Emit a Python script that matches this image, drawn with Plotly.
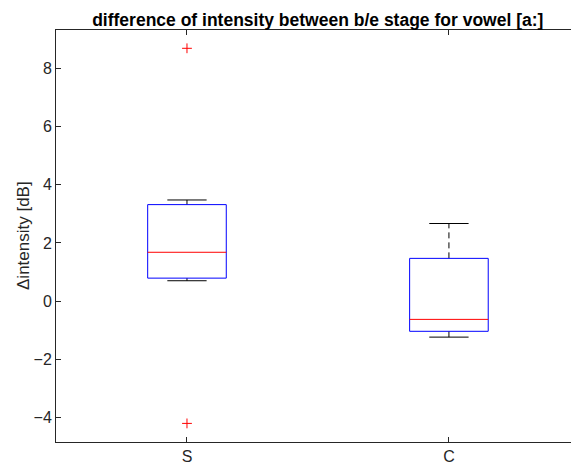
import plotly.graph_objects as go

groups = ["S", "C"]
positions = [1, 2]
q1 = [0.79, -1.04]
median = [1.68, -0.63]
q3 = [3.32, 1.47]
lower_whisker = [0.70, -1.24]
upper_whisker = [3.48, 2.67]
outliers = [[8.70, -4.21], []]

half_box = 0.15
half_cap = 0.075

fig = go.Figure()
for p, a, m, b, lw, uw, out in zip(positions, q1, median, q3, lower_whisker, upper_whisker, outliers):
    # whiskers (dashed black)
    fig.add_trace(go.Scatter(x=[p, p, None, p, p], y=[b, uw, None, a, lw], mode="lines",
                             line=dict(color="black", width=1, dash="6px,4px"), hoverinfo="skip"))
    # caps
    fig.add_trace(go.Scatter(x=[p - half_cap, p + half_cap, None, p - half_cap, p + half_cap],
                             y=[uw, uw, None, lw, lw], mode="lines",
                             line=dict(color="black", width=1), hoverinfo="skip"))
    # box
    fig.add_trace(go.Scatter(x=[p - half_box, p + half_box, p + half_box, p - half_box, p - half_box],
                             y=[a, a, b, b, a], mode="lines",
                             line=dict(color="#0000ff", width=1), hoverinfo="skip"))
    # median
    fig.add_trace(go.Scatter(x=[p - half_box, p + half_box], y=[m, m], mode="lines",
                             line=dict(color="#ff0000", width=1), hoverinfo="skip"))
    if out:
        fig.add_trace(go.Scatter(x=[p] * len(out), y=out, mode="markers",
                                 marker=dict(symbol="cross-thin", size=7,
                                             line=dict(color="#ff0000", width=1)),
                                 hoverinfo="skip"))

axis_color = "#262626"
fig.update_layout(
    width=571, height=469,
    margin=dict(l=56, r=0, t=30, b=27),
    paper_bgcolor="white", plot_bgcolor="white",
    showlegend=False,
    font=dict(family="Liberation Sans, Arial, sans-serif", color=axis_color, size=15),
    title=dict(text="<b>difference of intensity between b/e stage for vowel [a:]</b>",
               x=0.5565, xanchor="center", y=0.958, yanchor="middle",
               font=dict(size=17.5, color="black")),
    xaxis=dict(range=[0.5, 2.466], tickvals=positions, ticktext=groups,
               showline=True, linecolor=axis_color, linewidth=1, mirror="allticks",
               ticks="inside", ticklen=5, tickcolor=axis_color, showgrid=False,
               zeroline=False, tickfont=dict(size=16)),
    yaxis=dict(range=[-4.85, 9.33], tickvals=[-4, -2, 0, 2, 4, 6, 8],
               showline=True, linecolor=axis_color, linewidth=1, mirror=False,
               ticks="inside", ticklen=5, tickcolor=axis_color, showgrid=False,
               zeroline=False, tickfont=dict(size=16)),
    annotations=[dict(text="\u0394intensity [dB]", xref="paper", yref="paper",
                      x=0, y=0.5, xshift=-33, xanchor="center", yanchor="middle",
                      textangle=-90, showarrow=False,
                      font=dict(size=17, color=axis_color))],
)

fig.write_html("out.html")
